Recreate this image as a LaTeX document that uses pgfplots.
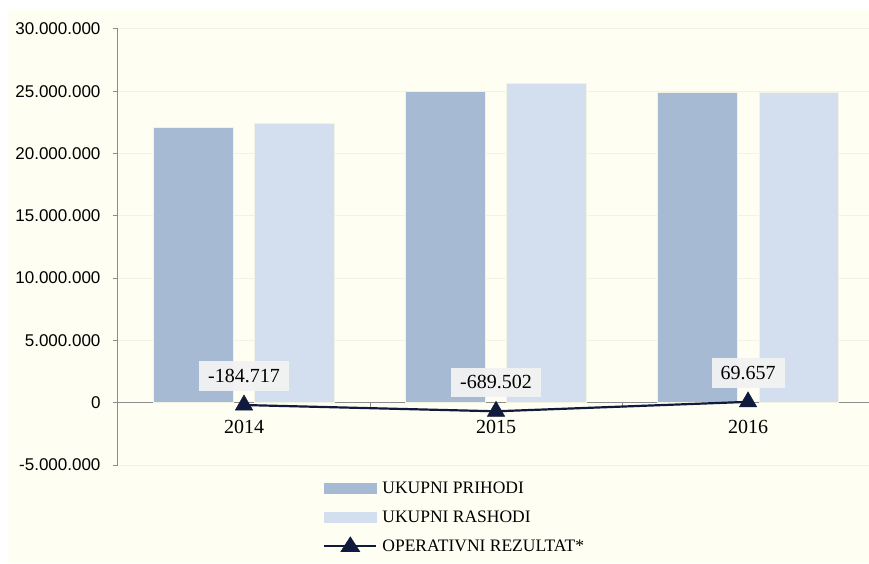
\documentclass[border=0pt]{standalone}
\usepackage{fontspec}
\setmainfont{Liberation Serif}
\newfontfamily\tickfont{Liberation Sans}
\usepackage{pgfplots}
\pgfplotsset{compat=1.18}
\definecolor{bgc}{HTML}{FEFEF2}
\definecolor{barA}{HTML}{A7BAD3}
\definecolor{barB}{HTML}{D3DFEE}
\definecolor{navy}{HTML}{0F1A3C}
\definecolor{gridc}{HTML}{F3F3E4}
\definecolor{axc}{HTML}{8C8C8C}
\definecolor{lblc}{HTML}{F2F2F2}
\begin{document}
\begin{tikzpicture}
\path[use as bounding box] (-118pt,-98pt) rectangle (751pt,465pt);
\fill[bgc] (-110pt,-98pt) rectangle (751pt,456pt);
\begin{axis}[
  scale only axis, width=751pt, height=436pt,
  xmin=-0.5, xmax=2.48, ymin=-5000000, ymax=30000000,
  axis y line*=left, axis x line*=middle,
  axis line style={axc, line width=1pt, -},
  xtick={0,1,2}, xticklabels={2014,2015,2016},
  major x tick style={draw=none},
  minor xtick={0.5,1.5}, minor x tick style={axc, line width=1pt},
  minor tick length=5pt, xtick align=outside,
  ytick={-5000000,0,5000000,10000000,15000000,20000000,25000000,30000000},
  yticklabels={-5.000.000,0,5.000.000,10.000.000,15.000.000,20.000.000,25.000.000,30.000.000},
  scaled y ticks=false,
  y tick label style={font=\tickfont\fontsize{17}{20}\selectfont, xshift=-9pt},
  major y tick style={axc, line width=1pt}, ytick align=outside, major tick length=5pt,
  ymajorgrids, grid style={gridc, line width=1pt},
  x tick label style={font=\fontsize{20}{23}\selectfont, yshift=-9pt},
  clip=false,
  legend style={draw=none, fill=none, at={(rel axis cs:0.273,-0.034)}, anchor=north west,
    font=\fontsize{17.5}{20}\selectfont, row sep=11.5pt, inner sep=0pt, cells={anchor=west},
    /tikz/every odd column/.style={column sep=3pt}},
  legend cell align=left,
]
\addplot[ybar, bar width=0.317, bar shift=-0.202, fill=barA, draw=gridc, line width=1pt,
  legend image code/.code={\fill[barA] (0pt,-5pt) rectangle (52pt,5pt);}]
  coordinates {(0,22100000) (1,24950000) (2,24900000)};
\addlegendentry{UKUPNI PRIHODI}
\addplot[ybar, bar width=0.317, bar shift=0.202, fill=barB, draw=gridc, line width=1pt,
  legend image code/.code={\fill[barB] (0pt,-5pt) rectangle (52pt,5pt);}]
  coordinates {(0,22450000) (1,25600000) (2,24880000)};
\addlegendentry{UKUPNI RASHODI}
\addplot[navy, line width=2.2pt, mark=triangle*, mark size=10pt, mark options={line width=0.5pt},
  nodes near coords, point meta=explicit symbolic,
  nodes near coords style={font=\fontsize{20}{23}\selectfont, fill=lblc, fill opacity=0.95, text opacity=1,
    inner xsep=9pt, inner ysep=8pt, text=black, anchor=center, yshift=29pt},
  legend image code/.code={\draw[navy, line width=2.2pt] (0pt,0pt)--(52pt,0pt);
     \fill[navy] (26pt,8pt) -- (34pt,-4.5pt) -- (18pt,-4.5pt) -- cycle;}]
  coordinates {(0,-184717) [-184.717] (1,-689502) [-689.502] (2,69657) [69.657]};
\addlegendentry{OPERATIVNI REZULTAT*}
\end{axis}
\end{tikzpicture}
\end{document}
